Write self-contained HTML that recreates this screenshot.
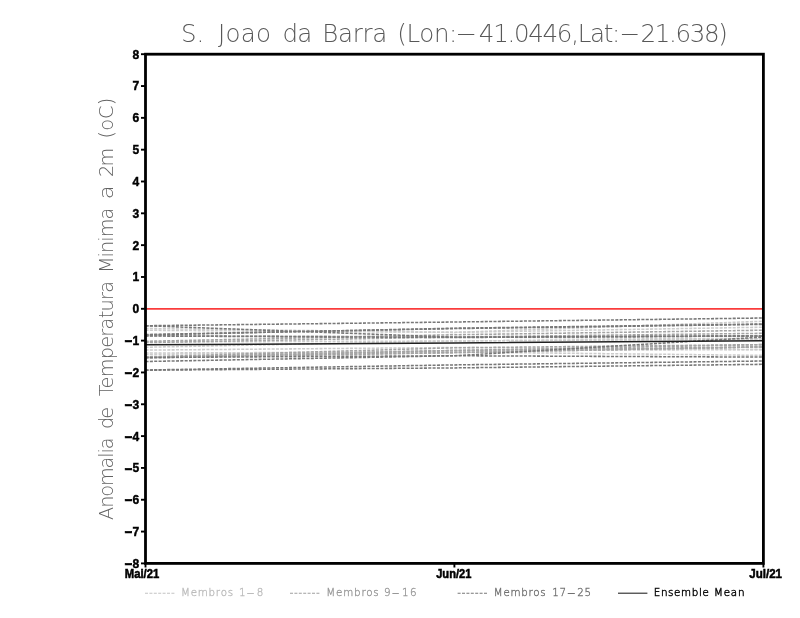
<!DOCTYPE html>
<html lang="pt"><head><meta charset="utf-8"><title>S. Joao da Barra</title>
<style>
html,body{margin:0;padding:0;background:#fff}
svg{display:block}
text{white-space:pre}
.t{font-family:"DejaVu Sans Light","DejaVu Sans","Liberation Sans",sans-serif}
.b{font-family:"Liberation Sans","DejaVu Sans",sans-serif;font-weight:bold}
</style></head><body>
<svg width="800" height="618" viewBox="0 0 800 618">
<rect width="800" height="618" fill="#fff"/>
<g fill="none" stroke="#cccccc" stroke-width="1.55" stroke-dasharray="3.05 1.3">
<polyline points="145.5,328.5 454.4,332.4 763.4,327.2"/>
<polyline points="145.5,330.25 454.4,332.4 763.4,321.25"/>
<polyline points="145.5,347.25 454.4,341.0 763.4,338.8"/>
<polyline points="145.5,350.1 454.4,347.5 763.4,349.6"/>
<polyline points="145.5,353.0 454.4,352.0 763.4,355.4"/>
<polyline points="145.5,354.5 454.4,350.5 763.4,349.6"/>
<polyline points="145.5,336.0 454.4,337.0 763.4,338.8"/>
<polyline points="145.5,342.0 454.4,341.0 763.4,338.8"/>
</g>
<g fill="none" stroke="#a4a4a4" stroke-width="1.55" stroke-dasharray="3.05 1.3">
<polyline points="145.5,341.3 454.4,334.75 763.4,330.2"/>
<polyline points="145.5,342.6 454.4,337.0 763.4,333.3"/>
<polyline points="145.5,356.8 454.4,347.8 763.4,344.6"/>
<polyline points="145.5,357.4 454.4,350.5 763.4,344.6"/>
<polyline points="145.5,357.3 454.4,352.6 763.4,346.9"/>
<polyline points="145.5,335.5 454.4,337.0 763.4,335.9"/>
<polyline points="145.5,357.6 454.4,350.5 763.4,346.9"/>
<polyline points="145.5,358.0 454.4,352.6 763.4,346.9"/>
</g>
<g fill="none" stroke="#787878" stroke-width="1.55" stroke-dasharray="3.05 1.3">
<polyline points="145.5,325.75 454.4,322.0 763.4,318.0"/>
<polyline points="145.5,325.75 454.4,337.2 763.4,335.9"/>
<polyline points="145.5,335.0 454.4,328.2 763.4,324.0"/>
<polyline points="145.5,336.0 454.4,337.5 763.4,336.0"/>
<polyline points="145.5,334.5 454.4,328.6 763.4,324.4"/>
<polyline points="145.5,357.5 454.4,355.75 763.4,357.1"/>
<polyline points="145.5,361.5 454.4,355.75 763.4,337.0"/>
<polyline points="145.5,370.0 454.4,364.9 763.4,361.0"/>
<polyline points="145.5,370.2 454.4,367.9 763.4,364.3"/>
</g>
<line x1="145.5" y1="308.80" x2="763.4" y2="308.80" stroke="#fa3c3c" stroke-width="1.8"/>
<polyline points="145.5,344.8 454.4,343.0 763.4,340.7" fill="none" stroke="#202020" stroke-width="1.5"/>
<rect x="145.5" y="54.2" width="617.9" height="509.2" fill="none" stroke="#000" stroke-width="2.8"/>
<g stroke="#000" stroke-width="1.9">
<line x1="141" y1="563.40" x2="145.5" y2="563.40"/>
<line x1="141" y1="531.58" x2="145.5" y2="531.58"/>
<line x1="141" y1="499.75" x2="145.5" y2="499.75"/>
<line x1="141" y1="467.92" x2="145.5" y2="467.92"/>
<line x1="141" y1="436.10" x2="145.5" y2="436.10"/>
<line x1="141" y1="404.27" x2="145.5" y2="404.27"/>
<line x1="141" y1="372.45" x2="145.5" y2="372.45"/>
<line x1="141" y1="340.62" x2="145.5" y2="340.62"/>
<line x1="141" y1="308.80" x2="145.5" y2="308.80"/>
<line x1="141" y1="276.98" x2="145.5" y2="276.98"/>
<line x1="141" y1="245.15" x2="145.5" y2="245.15"/>
<line x1="141" y1="213.32" x2="145.5" y2="213.32"/>
<line x1="141" y1="181.50" x2="145.5" y2="181.50"/>
<line x1="141" y1="149.68" x2="145.5" y2="149.68"/>
<line x1="141" y1="117.85" x2="145.5" y2="117.85"/>
<line x1="141" y1="86.03" x2="145.5" y2="86.03"/>
<line x1="141" y1="54.20" x2="145.5" y2="54.20"/>
<line x1="145.5" y1="563.4" x2="145.5" y2="567.5"/>
<line x1="454.4" y1="563.4" x2="454.4" y2="567.5"/>
<line x1="763.4" y1="563.4" x2="763.4" y2="567.5"/>
</g>
<g class="b" font-size="12.7" fill="#000" stroke="#000" stroke-width="0.45" text-anchor="end" transform="translate(139.3,0) scale(0.95,1)">
<text x="0" y="58.65">8</text>
<text x="0" y="90.48">7</text>
<text x="0" y="122.30">6</text>
<text x="0" y="154.12">5</text>
<text x="0" y="185.95">4</text>
<text x="0" y="217.77">3</text>
<text x="0" y="249.60">2</text>
<text x="0" y="281.43">1</text>
<text x="0" y="313.25">0</text>
<text x="0" y="345.07"><tspan font-size="14" dy="0.3" textLength="8.8" lengthAdjust="spacingAndGlyphs">-</tspan><tspan dy="-0.3">1</tspan></text>
<text x="0" y="376.90"><tspan font-size="14" dy="0.3" textLength="8.8" lengthAdjust="spacingAndGlyphs">-</tspan><tspan dy="-0.3">2</tspan></text>
<text x="0" y="408.72"><tspan font-size="14" dy="0.3" textLength="8.8" lengthAdjust="spacingAndGlyphs">-</tspan><tspan dy="-0.3">3</tspan></text>
<text x="0" y="440.55"><tspan font-size="14" dy="0.3" textLength="8.8" lengthAdjust="spacingAndGlyphs">-</tspan><tspan dy="-0.3">4</tspan></text>
<text x="0" y="472.37"><tspan font-size="14" dy="0.3" textLength="8.8" lengthAdjust="spacingAndGlyphs">-</tspan><tspan dy="-0.3">5</tspan></text>
<text x="0" y="504.20"><tspan font-size="14" dy="0.3" textLength="8.8" lengthAdjust="spacingAndGlyphs">-</tspan><tspan dy="-0.3">6</tspan></text>
<text x="0" y="536.03"><tspan font-size="14" dy="0.3" textLength="8.8" lengthAdjust="spacingAndGlyphs">-</tspan><tspan dy="-0.3">7</tspan></text>
<text x="0" y="567.85"><tspan font-size="14" dy="0.3" textLength="8.8" lengthAdjust="spacingAndGlyphs">-</tspan><tspan dy="-0.3">8</tspan></text>
</g>
<g fill="none" stroke-width="1.1" stroke-dasharray="3 1.4">
<line x1="145" y1="593.2" x2="174.4" y2="593.2" stroke="#c4c4c4"/>
<line x1="290" y1="593.2" x2="320" y2="593.2" stroke="#a0a0a0"/>
<line x1="457.6" y1="593.2" x2="487.4" y2="593.2" stroke="#787878"/>
</g>
<line x1="618" y1="593.2" x2="647.4" y2="593.2" stroke="#262626" stroke-width="1.1"/>
<text class="t" transform="translate(183,41.9)" x="-1.91" y="0" font-size="24.5" fill="#585858" letter-spacing="-0.231">S.</text>
<text class="t" transform="translate(218,41.9)" x="0.00" y="0" font-size="24.5" fill="#585858" letter-spacing="0.258">Joao</text>
<text class="t" transform="translate(284.4,41.9)" x="-1.91" y="0" font-size="24.5" fill="#585858" letter-spacing="-0.788">da</text>
<text class="t" transform="translate(324.9,41.9)" x="-2.68" y="0" font-size="24.5" fill="#585858" letter-spacing="-0.293">Barra</text>
<text class="t" transform="translate(400,41.9)" x="-2.68" y="0" font-size="24.5" fill="#585858" letter-spacing="-0.398">(Lon:</text>
<text class="t" transform="translate(458,40.8) scale(2.5200,1)" x="-1.15" y="0" font-size="24.5" fill="#585858">-</text>
<text class="t" transform="translate(480,41.9)" x="-1.15" y="0" font-size="24.5" fill="#585858" letter-spacing="-1.291">41.0446,Lat:</text>
<text class="t" transform="translate(621.7,40.8) scale(2.4279,1)" x="-1.15" y="0" font-size="24.5" fill="#585858">-</text>
<text class="t" transform="translate(642,41.9)" x="-1.53" y="0" font-size="24.5" fill="#585858" letter-spacing="-1.311">21.638)</text>
<text class="t" transform="translate(113.4,519.6) rotate(-90)" x="-0.30" y="0" font-size="19.3" fill="#626262" letter-spacing="-1.135">Anomalia</text>
<text class="t" transform="translate(113.4,427.4) rotate(-90)" x="-1.51" y="0" font-size="19.3" fill="#626262" letter-spacing="-1.998">de</text>
<text class="t" transform="translate(113.4,395.9) rotate(-90)" x="-0.30" y="0" font-size="19.3" fill="#626262" letter-spacing="-0.735">Temperatura</text>
<text class="t" transform="translate(113.4,270.1) rotate(-90)" x="-3.02" y="0" font-size="19.3" fill="#626262" letter-spacing="-0.939">Minima</text>
<text class="t" transform="translate(113.4,197.5) rotate(-90) scale(1.1790,1)" x="-1.51" y="0" font-size="19.3" fill="#626262">a</text>
<text class="t" transform="translate(113.4,175.8) rotate(-90)" x="-1.21" y="0" font-size="19.3" fill="#626262" letter-spacing="-1.660">2m</text>
<text class="t" transform="translate(113.4,136.4) rotate(-90)" x="-2.11" y="0" font-size="19.3" fill="#626262" letter-spacing="0.122">(oC)</text>
<text class="t" transform="translate(182.6,596.4)" x="-1.65" y="0" font-size="10.3" fill="#bcbcbc" letter-spacing="0.782" stroke="#bcbcbc" stroke-width="0.35">Membros</text>
<text class="t" transform="translate(240,596.4)" x="-1.10" y="0" font-size="10.3" fill="#bcbcbc" letter-spacing="1.047" stroke="#bcbcbc" stroke-width="0.35">1<tspan textLength="10.3" lengthAdjust="spacingAndGlyphs">-</tspan>8</text>
<text class="t" transform="translate(328,596.4)" x="-1.65" y="0" font-size="10.3" fill="#989898" letter-spacing="0.816" stroke="#989898" stroke-width="0.35">Membros</text>
<text class="t" transform="translate(385,596.4)" x="-1.00" y="0" font-size="10.3" fill="#989898" letter-spacing="1.247" stroke="#989898" stroke-width="0.35">9<tspan textLength="10.3" lengthAdjust="spacingAndGlyphs">-</tspan>16</text>
<text class="t" transform="translate(495.4,596.4)" x="-1.65" y="0" font-size="10.3" fill="#707070" letter-spacing="0.749" stroke="#707070" stroke-width="0.35">Membros</text>
<text class="t" transform="translate(553.4,596.4)" x="-1.10" y="0" font-size="10.3" fill="#707070" letter-spacing="0.763" stroke="#707070" stroke-width="0.35">17<tspan textLength="10.3" lengthAdjust="spacingAndGlyphs">-</tspan>25</text>
<text class="t" transform="translate(655,596.4)" x="-1.25" y="0" font-size="10.3" fill="#101010" letter-spacing="0.640" stroke="#101010" stroke-width="0.5">Ensemble</text>
<text class="t" transform="translate(715.6,596.4)" x="-1.65" y="0" font-size="10.3" fill="#101010" letter-spacing="0.822" stroke="#101010" stroke-width="0.5">Mean</text>
<text class="b" transform="translate(125.5,577.7) scale(0.8677,1)" x="-0.81" y="0" font-size="13" fill="#000" stroke="#000" stroke-width="0.55">Mai/21</text>
<text class="b" transform="translate(436.2,577.7) scale(0.8541,1)" x="0.00" y="0" font-size="13" fill="#000" stroke="#000" stroke-width="0.55">Jun/21</text>
<text class="b" transform="translate(749.2,577.7) scale(0.8924,1)" x="0.00" y="0" font-size="13" fill="#000" stroke="#000" stroke-width="0.55">Jul/21</text>
</svg>
</body></html>
